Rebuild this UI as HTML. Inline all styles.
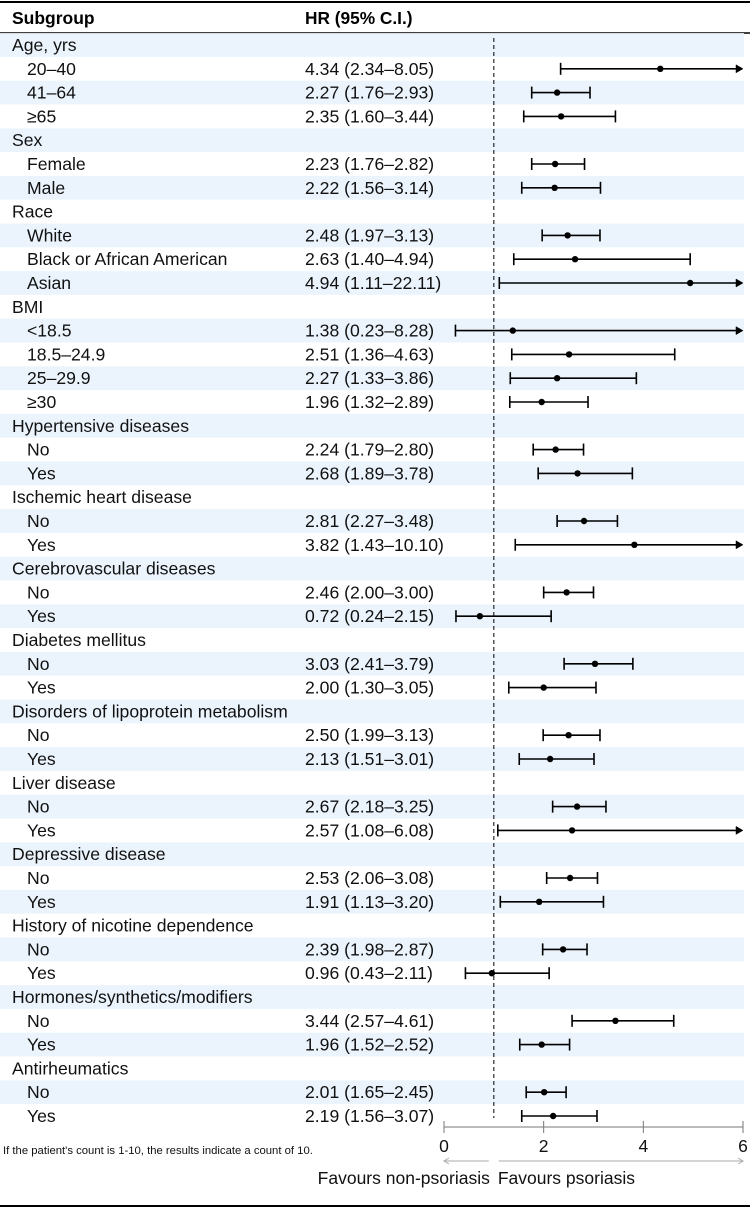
<!DOCTYPE html>
<html><head><meta charset="utf-8"><style>
html,body{margin:0;padding:0;background:#fff;}
svg{display:block;font-family:"Liberation Sans",Arial,sans-serif;}
</style></head><body>
<svg id="chart" width="750" height="1208" viewBox="0 0 750 1208" xmlns="http://www.w3.org/2000/svg"></svg>
<script>
const labels = ["Age, yrs","20–40","41–64","≥65","Sex","Female","Male","Race","White","Black or African American","Asian","BMI","<18.5","18.5–24.9","25–29.9","≥30","Hypertensive diseases","No","Yes","Ischemic heart disease","No","Yes","Cerebrovascular diseases","No","Yes","Diabetes mellitus","No","Yes","Disorders of lipoprotein metabolism","No","Yes","Liver disease","No","Yes","Depressive disease","No","Yes","History of nicotine dependence","No","Yes","Hormones/synthetics/modifiers","No","Yes","Antirheumatics","No","Yes"];
const hr =    [null,4.34,2.27,2.35,null,2.23,2.22,null,2.48,2.63,4.94,null,1.38,2.51,2.27,1.96,null,2.24,2.68,null,2.81,3.82,null,2.46,0.72,null,3.03,2.00,null,2.50,2.13,null,2.67,2.57,null,2.53,1.91,null,2.39,0.96,null,3.44,1.96,null,2.01,2.19];
const lower = [null,2.34,1.76,1.60,null,1.76,1.56,null,1.97,1.40,1.11,null,0.23,1.36,1.33,1.32,null,1.79,1.89,null,2.27,1.43,null,2.00,0.24,null,2.41,1.30,null,1.99,1.51,null,2.18,1.08,null,2.06,1.13,null,1.98,0.43,null,2.57,1.52,null,1.65,1.56];
const upper = [null,8.05,2.93,3.44,null,2.82,3.14,null,3.13,4.94,22.11,null,8.28,4.63,3.86,2.89,null,2.80,3.78,null,3.48,10.10,null,3.00,2.15,null,3.79,3.05,null,3.13,3.01,null,3.25,6.08,null,3.08,3.20,null,2.87,2.11,null,4.61,2.52,null,2.45,3.07];
const ticks = [0,2,4,6];

const NS="http://www.w3.org/2000/svg";
const svg=document.getElementById('chart');
function mk(t,a,p){const e=document.createElementNS(NS,t);for(const k in a)e.setAttribute(k,a[k]);(p||svg).appendChild(e);return e;}
const X0=444,X1=743,XMAX=6;
const xs=v=>X0+(Math.min(v,XMAX))/XMAX*(X1-X0);
const RH=23.8,Y0=45;
const ys=i=>Y0+i*RH;
const fmt=v=>v.toFixed(2);
const FS=17.6;

let e=mk('line',{x1:0,x2:750,y1:2,y2:2,stroke:'#000','stroke-width':2});

e=mk('text',{x:12,y:24,'font-size':17.5,'font-weight':'bold'});e.textContent='Subgroup';

e=mk('text',{x:305,y:24,'font-size':17.3,'font-weight':'bold'});e.textContent='HR (95% C.I.)';

e=mk('line',{x1:0,x2:750,y1:33,y2:33,stroke:'#000','stroke-width':1.5});


labels.forEach((l,i)=>{
  if(i%2===0){
    const r=mk('rect',{x:0,y:ys(i)-RH/2,width:744,height:RH,fill:'#ebf4fd'});
    
    
  }
});
e=mk('line',{x1:xs(1),x2:xs(1),y1:38,y2:1118,stroke:'#000','stroke-width':1,'stroke-dasharray':'4,3'});


labels.forEach((l,i)=>{
  const y=ys(i);
  const isHead=hr[i]===null;
  const t=mk('text',{x:isHead?12:27,y:y+6,'font-size':FS,fill:'#111'});
  t.textContent=l;
  
  
  if(isHead)return;
  const v=mk('text',{x:305,y:y+6,'font-size':FS,fill:'#111'});
  v.textContent=fmt(hr[i])+' ('+fmt(lower[i])+'–'+fmt(upper[i])+')';
  
  
  const g=mk('g',{stroke:'#000','stroke-width':1.6});
  
  
  const xl=xs(lower[i]),xu=xs(upper[i]),over=upper[i]>XMAX;
  mk('line',{x1:xl,x2:over?xu-5:xu,y1:y,y2:y},g);
  mk('line',{x1:xl,x2:xl,y1:y-6,y2:y+6},g);
  if(over){mk('path',{d:`M${xu-7},${y-4} L${xu},${y} L${xu-7},${y+4} Z`,fill:'#000','stroke-width':0.5},g);}
  else mk('line',{x1:xu,x2:xu,y1:y-6,y2:y+6},g);
  mk('circle',{cx:xs(hr[i]),cy:y,r:3.2,fill:'#000',stroke:'none'},g);
});

const AY=1127;
e=mk('line',{x1:X0,x2:X1,y1:AY,y2:AY,stroke:'#777','stroke-width':1});

ticks.forEach(t=>{
  const tk=mk('line',{x1:xs(t),x2:xs(t),y1:AY-6,y2:AY+6,stroke:'#777','stroke-width':1});
  
  
  const tl=mk('text',{x:xs(t),y:1152,'font-size':17.5,'text-anchor':'middle',fill:'#111'});
  tl.textContent=t;
  
  
});
e=mk('g',{stroke:'#aaa','stroke-width':1,fill:'none'});

mk('path',{d:`M${xs(1)-5},1161 L${X0},1161 M${X0+5},1158 L${X0},1161 L${X0+5},1164`},e);
mk('path',{d:`M${xs(1)+5},1161 L${X1},1161 M${X1-5},1158 L${X1},1161 L${X1-5},1164`},e);
e=mk('text',{x:xs(1)-4,y:1184,'font-size':17.5,'text-anchor':'end',fill:'#111'});e.textContent='Favours non-psoriasis';

e=mk('text',{x:xs(1)+4,y:1184,'font-size':17.5,fill:'#111'});e.textContent='Favours psoriasis';

e=mk('text',{x:3,y:1154,'font-size':11.3,fill:'#111'});e.textContent="If the patient's count is 1-10, the results indicate a count of 10.";

e=mk('line',{x1:0,x2:750,y1:1206,y2:1206,stroke:'#000','stroke-width':2});

</script>
</body></html>
